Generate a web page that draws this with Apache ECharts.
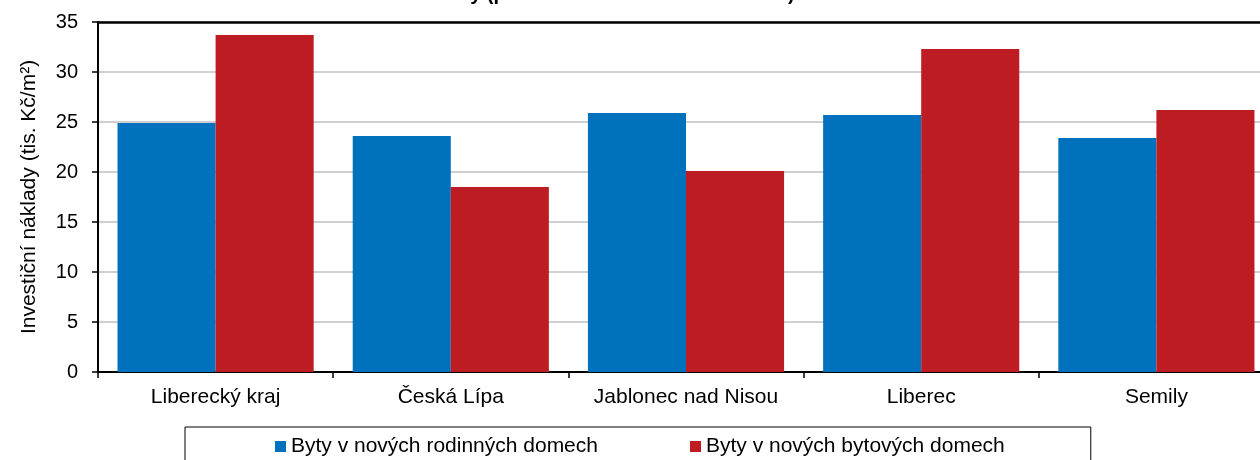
<!DOCTYPE html>
<html lang="cs" style="height: 100%">
<head>
  <meta charset="utf-8">
</head>
<body style="height: 100%; margin: 0; background: #fff">
  <div id="container" style="width: 1260px; height: 460px"></div>

  <script type="text/javascript" src="https://cdn.jsdelivr.net/npm/echarts@6/dist/echarts.min.js"></script>

  <script type="text/javascript">
    // okresy Libereckého kraje
    var categories = ['Liberecký kraj', 'Česká Lípa', 'Jablonec nad Nisou', 'Liberec', 'Semily'];
    var seriesNames = ['Byty v nových rodinných domech', 'Byty v nových bytových domech'];
    // investiční náklady, tis. Kč/m2
    var rodinneDomy = [24.9, 23.6, 25.9, 25.7, 23.4];
    var bytoveDomy = [33.7, 18.5, 20.1, 32.3, 26.2];

    var font = 'Liberation Sans, Arial, sans-serif';

    var dom = document.getElementById('container');
    var myChart = echarts.init(dom, null, { renderer: 'canvas' });

    var option = {
      animation: false,
      title: {
        text: 'Investiční náklady (průměr za období 2021 až 2023)',
        left: 309,
        top: -16,
        padding: 0,
        textStyle: { fontFamily: font, fontSize: 20, fontWeight: 'bold', color: '#000', lineHeight: 20 }
      },
      grid: {
        left: 98,
        top: 22,
        right: -14,
        bottom: 88,
        outerBoundsMode: 'none',
        containLabel: false
      },
      legend: {
        left: 185,
        top: 427,
        padding: [9, 86, 9, 90],
        itemGap: 92,
        itemWidth: 11,
        itemHeight: 11,
        icon: 'rect',
        borderColor: '#000',
        borderWidth: 1,
        textStyle: { fontFamily: font, fontSize: 21, color: '#000' }
      },
      xAxis: [
        {
          type: 'category',
          data: categories,
          axisLine: { lineStyle: { color: '#000', width: 2 } },
          axisTick: { show: true, length: 6, lineStyle: { color: '#000', width: 1.5 } },
          axisLabel: { fontFamily: font, fontSize: 21, color: '#000', margin: 15, interval: 0 }
        },
        {
          // horní okraj grafu
          type: 'category',
          data: categories,
          position: 'top',
          axisLine: { show: true, lineStyle: { color: '#000', width: 2.5 } },
          axisTick: { show: false },
          axisLabel: { show: false }
        }
      ],
      yAxis: {
        type: 'value',
        min: 0,
        max: 35,
        interval: 5,
        name: 'Investiční náklady (tis. Kč/m²)',
        nameLocation: 'middle',
        nameGap: 58,
        nameTextStyle: { fontFamily: font, fontSize: 21, color: '#000' },
        axisLine: { show: true, lineStyle: { color: '#000', width: 2 } },
        axisTick: { show: true, length: 6, lineStyle: { color: '#000', width: 1.5 } },
        axisLabel: { fontFamily: font, fontSize: 20, color: '#000', margin: 20 },
        splitLine: { lineStyle: { color: '#c0c0c0', width: 1.5 } }
      },
      series: [
        {
          name: seriesNames[0],
          type: 'bar',
          data: rodinneDomy,
          barGap: '0%',
          barCategoryGap: '16.6%',
          itemStyle: { color: '#0071bc' }
        },
        {
          name: seriesNames[1],
          type: 'bar',
          data: bytoveDomy,
          barGap: '0%',
          barCategoryGap: '16.6%',
          itemStyle: { color: '#be1c23' }
        }
      ]
    };

    myChart.setOption(option);
    window.addEventListener('resize', myChart.resize);
  </script>
</body>
</html>
